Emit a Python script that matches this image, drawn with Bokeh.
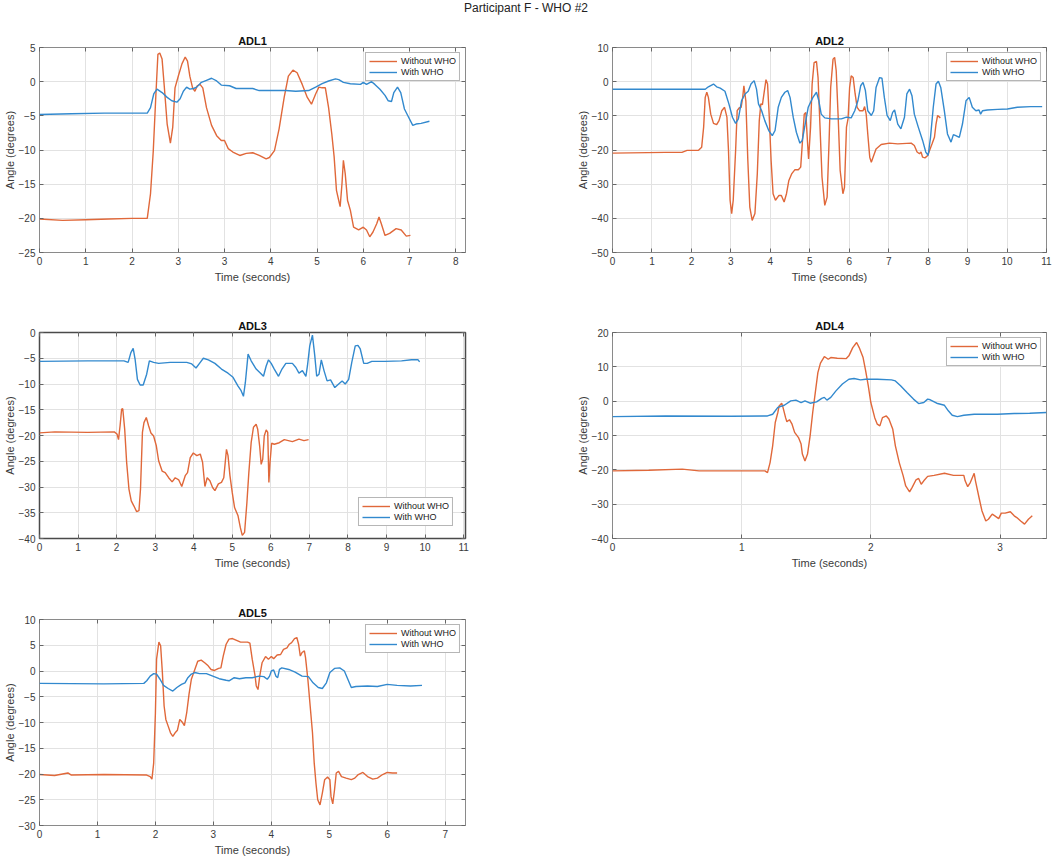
from bokeh.plotting import figure
from bokeh.models import Range1d, FixedTicker, Div, LinearAxis
from bokeh.layouts import column, row
from bokeh.embed import file_html
from bokeh.resources import INLINE

FONT = "Liberation Sans"
ORANGE = "#E0683A"
BLUE = "#3289CE"
SUPTITLE = "Participant F - WHO #2"
SERIES = ["Without WHO", "With WHO"]
XLABEL = "Time (seconds)"
YLABEL = "Angle (degrees)"

# ---------------- ADL1 (x axis positions are tick indices; labels as printed) ----------------
ADL1_XTICK_LABELS = ["0", "1", "2", "3", "3", "4", "5", "6", "7", "8"]
ADL1_YTICKS = [-25, -20, -15, -10, -5, 0, 5]
adl1_wo_x = [0, 0.5, 1.0, 1.5, 2.0, 2.33, 2.40, 2.46, 2.51, 2.56, 2.60, 2.65, 2.70, 2.76, 2.83, 2.88, 2.93, 3.00, 3.08, 3.15,
             3.20, 3.25, 3.31, 3.36, 3.41, 3.47, 3.53, 3.61, 3.72, 3.83, 3.93, 4.00, 4.08, 4.18, 4.33, 4.47, 4.61, 4.75, 4.90, 4.97,
             5.08, 5.18, 5.29, 5.38, 5.48, 5.57, 5.68, 5.79, 5.88, 5.97, 6.04, 6.11, 6.18, 6.25, 6.32, 6.37, 6.42, 6.47, 6.50, 6.54,
             6.57, 6.61, 6.66, 6.72, 6.79, 6.90, 7.00, 7.07, 7.14, 7.21, 7.29, 7.34, 7.39, 7.47, 7.57, 7.71, 7.82, 7.93, 8.02]
adl1_wo_y = [-20.1, -20.3, -20.2, -20.1, -20.0, -20.0, -16.4, -10.1, -2.8, 4.0, 4.2, 3.3, -0.9, -6.2, -9.0, -6.7, -0.9, 0.8, 2.6, 3.6,
             3.0, 0.8, -0.9, -1.4, -0.6, -0.4, -0.9, -3.8, -6.4, -7.9, -8.6, -8.6, -9.8, -10.3, -10.8, -10.5, -10.4, -10.8, -11.3, -11.1,
             -10.1, -6.9, -2.3, 0.8, 1.7, 1.3, -0.4, -2.3, -3.3, -1.8, -0.8, -0.9, -0.9, -3.8, -7.7, -11.0, -15.9, -17.4, -18.3, -14.9,
             -11.5, -13.5, -17.4, -18.8, -21.3, -21.7, -21.3, -21.7, -22.7, -22.0, -20.8, -19.8, -20.8, -22.5, -22.2, -21.5, -21.7, -22.6, -22.5]
adl1_w_x = [0, 0.69, 1.40, 2.33, 2.40, 2.47, 2.54, 2.65, 2.76, 2.86, 2.97, 3.04, 3.11, 3.18, 3.25, 3.33, 3.40, 3.50, 3.61, 3.72,
            3.83, 3.93, 4.11, 4.25, 4.47, 4.61, 4.75, 4.97, 5.32, 5.54, 5.82, 5.97, 6.11, 6.25, 6.40, 6.47, 6.57, 6.72, 6.94, 7.00,
            7.07, 7.18, 7.25, 7.36, 7.47, 7.54, 7.61, 7.66, 7.74, 7.81, 7.89, 7.98, 8.07, 8.14, 8.25, 8.43]
adl1_w_y = [-4.8, -4.7, -4.6, -4.6, -3.8, -1.8, -1.1, -1.6, -2.3, -2.8, -3.0, -2.5, -1.4, -0.8, -1.1, -1.0, -0.8, -0.1, 0.2, 0.5,
            0.1, -0.5, -0.6, -1.0, -1.0, -1.0, -1.3, -1.3, -1.3, -1.4, -1.3, -0.8, -0.3, 0.1, 0.4, 0.3, -0.1, -0.3, -0.4, -0.1,
            -0.4, 0.0, -0.4, -1.1, -2.0, -2.8, -2.9, -1.6, -0.8, -1.6, -4.0, -5.2, -6.4, -6.2, -6.1, -5.8]

# ---------------- ADL2 ----------------
ADL2_YTICKS = [-50, -40, -30, -20, -10, 0, 10]
adl2_wo_x = [0, 1.34, 1.76, 1.89, 2.18, 2.26, 2.31, 2.35, 2.39, 2.43, 2.49, 2.56, 2.64, 2.70, 2.77, 2.84, 2.90, 2.94, 2.98, 3.02,
             3.06, 3.12, 3.16, 3.21, 3.26, 3.30, 3.33, 3.38, 3.43, 3.48, 3.54, 3.61, 3.67, 3.72, 3.76, 3.80, 3.85, 3.89, 3.93, 3.97,
             4.02, 4.07, 4.13, 4.22, 4.28, 4.35, 4.41, 4.47, 4.54, 4.62, 4.71, 4.77, 4.81, 4.86, 4.90, 4.94, 4.97, 5.02, 5.06, 5.11,
             5.17, 5.21, 5.26, 5.31, 5.38, 5.44, 5.49, 5.53, 5.59, 5.63, 5.67, 5.72, 5.77, 5.84, 5.88, 5.93, 5.97, 6.01, 6.05, 6.10,
             6.15, 6.20, 6.26, 6.35, 6.39, 6.43, 6.47, 6.52, 6.56, 6.62, 6.68, 6.81, 7.02, 7.23, 7.57, 7.65, 7.72, 7.78, 7.82, 7.86,
             7.92, 7.99, 8.05, 8.10, 8.16, 8.20, 8.24, 8.31]
adl2_wo_y = [-20.9, -20.7, -20.7, -20.1, -20.1, -19.2, -13.3, -4.6, -3.1, -4.6, -9.5, -12.2, -12.6, -11.4, -8.5, -7.5, -10.4, -20.2, -34.7, -38.6,
             -34.7, -20.2, -8.5, -7.7, -7.5, -4.6, -1.2, -5.6, -23.1, -36.7, -40.6, -38.6, -27.0, -11.4, -6.5, -6.7, -2.6, 0.6, -0.7, -9.5,
             -23.1, -32.8, -34.7, -33.3, -33.3, -35.2, -32.8, -28.9, -27.0, -25.8, -25.8, -25.0, -18.2, -9.5, -9.0, -17.2, -22.6, -13.3, -0.7, 5.6,
             5.9, 1.2, -13.3, -27.9, -36.2, -33.8, -17.2, -1.7, 6.6, 7.1, 3.2, -10.4, -26.0, -32.8, -30.9, -13.3, -10.9, -1.7, 1.7, 1.2,
             -3.6, -7.5, -8.5, -8.5, -7.3, -9.5, -15.3, -22.1, -23.6, -21.6, -19.7, -18.4, -18.0, -18.2, -18.0, -18.7, -20.6, -21.1, -20.6, -22.1,
             -22.3, -21.6, -19.7, -18.2, -16.3, -12.4, -9.9, -10.6]
adl2_w_x = [0, 1.5, 2.35, 2.43, 2.56, 2.64, 2.73, 2.85, 2.95, 3.04, 3.12, 3.19, 3.27, 3.36, 3.44, 3.51, 3.59, 3.65, 3.70, 3.78,
            3.86, 3.96, 4.05, 4.12, 4.20, 4.28, 4.37, 4.44, 4.50, 4.58, 4.66, 4.75, 4.81, 4.87, 4.96, 5.08, 5.17, 5.23, 5.29, 5.38,
            5.55, 5.80, 5.93, 6.05, 6.14, 6.22, 6.29, 6.35, 6.41, 6.47, 6.56, 6.62, 6.68, 6.77, 6.83, 6.89, 6.96, 7.04, 7.10, 7.15,
            7.23, 7.31, 7.40, 7.46, 7.53, 7.59, 7.65, 7.75, 7.86, 7.94, 8.00, 8.06, 8.13, 8.20, 8.26, 8.32, 8.41, 8.49, 8.58, 8.64,
            8.70, 8.79, 8.87, 8.96, 9.04, 9.12, 9.21, 9.29, 9.33, 9.38, 9.50, 9.76, 10.01, 10.26, 10.60, 10.89]
adl2_w_y = [-2.2, -2.2, -2.2, -1.5, -0.7, -1.5, -1.9, -2.8, -6.5, -10.4, -12.2, -10.9, -5.6, -3.6, -2.8, -0.7, 0.3, -2.2, -6.5, -8.5,
            -11.4, -14.3, -15.8, -14.3, -7.5, -4.6, -3.1, -2.6, -4.6, -10.4, -14.8, -18.0, -17.2, -13.3, -7.5, -4.6, -3.1, -5.6, -9.5, -10.6,
            -10.9, -10.9, -10.4, -10.6, -8.5, -5.6, -1.2, -0.2, -2.6, -8.5, -9.9, -8.5, -1.7, 1.2, 1.0, -4.6, -9.9, -11.4, -9.0, -8.3,
            -12.4, -13.8, -10.4, -3.6, -2.2, -4.1, -9.5, -13.3, -17.2, -20.6, -21.6, -16.3, -7.5, -0.7, 0.1, -1.7, -8.5, -15.3, -17.7, -15.5,
            -15.8, -16.3, -12.4, -5.6, -4.6, -7.5, -8.5, -8.3, -9.5, -8.5, -8.3, -8.1, -8.0, -7.5, -7.3, -7.3]

# ---------------- ADL3 ----------------
ADL3_YTICKS = [-40, -35, -30, -25, -20, -15, -10, -5, 0]
adl3_wo_x = [0, 0.4, 1.25, 1.94, 2.01, 2.05, 2.09, 2.13, 2.16, 2.21, 2.26, 2.32, 2.38, 2.45, 2.52, 2.58, 2.62, 2.67, 2.71, 2.77,
             2.83, 2.89, 2.96, 3.03, 3.09, 3.18, 3.26, 3.35, 3.44, 3.52, 3.61, 3.69, 3.78, 3.84, 3.91, 3.99, 4.08, 4.17, 4.23, 4.29,
             4.35, 4.42, 4.49, 4.55, 4.64, 4.72, 4.78, 4.85, 4.89, 4.94, 5.00, 5.06, 5.15, 5.21, 5.26, 5.32, 5.38, 5.43, 5.49, 5.55,
             5.62, 5.66, 5.71, 5.75, 5.79, 5.83, 5.88, 5.92, 5.95, 5.98, 6.02, 6.09, 6.22, 6.35, 6.56, 6.73, 6.86, 6.98]
adl3_wo_y = [-19.5, -19.3, -19.4, -19.3, -19.7, -20.8, -18.1, -14.9, -14.8, -18.8, -25.2, -30.4, -32.7, -33.7, -34.8, -34.6, -30.4, -19.4, -17.5, -16.5,
             -18.1, -19.5, -20.1, -22.0, -24.9, -26.9, -27.2, -28.2, -29.0, -28.2, -28.6, -29.9, -27.8, -27.2, -24.3, -23.4, -23.9, -23.6, -25.2, -29.9,
             -28.2, -28.8, -30.1, -30.7, -29.4, -29.1, -28.2, -22.7, -23.9, -27.8, -31.1, -34.0, -35.6, -37.9, -39.4, -38.8, -33.0, -27.2, -21.4, -18.4,
             -17.8, -18.8, -22.0, -25.6, -24.6, -20.1, -18.9, -19.4, -29.1, -25.2, -21.5, -21.7, -21.4, -20.8, -21.2, -20.7, -21.0, -20.8]
adl3_w_x = [0, 1.25, 2.19, 2.30, 2.37, 2.43, 2.48, 2.54, 2.61, 2.69, 2.78, 2.85, 2.96, 3.09, 3.39, 3.82, 3.95, 4.06, 4.17, 4.25,
            4.38, 4.55, 4.72, 4.89, 5.02, 5.15, 5.23, 5.29, 5.34, 5.41, 5.49, 5.62, 5.72, 5.81, 5.88, 5.94, 6.01, 6.09, 6.20, 6.29,
            6.39, 6.56, 6.65, 6.73, 6.82, 6.91, 6.95, 7.01, 7.08, 7.14, 7.19, 7.25, 7.31, 7.38, 7.46, 7.55, 7.66, 7.76, 7.85, 7.93,
            8.02, 8.10, 8.19, 8.26, 8.32, 8.41, 8.50, 8.62, 8.96, 9.39, 9.65, 9.82, 9.86]
adl3_w_y = [-5.6, -5.5, -5.5, -5.8, -3.9, -3.1, -5.2, -9.1, -10.2, -10.2, -8.1, -5.5, -5.8, -6.0, -5.8, -5.8, -6.1, -6.9, -5.8, -5.0,
            -5.3, -6.0, -7.1, -7.9, -8.7, -10.4, -11.3, -12.4, -9.7, -4.2, -5.5, -7.1, -7.8, -8.5, -6.5, -5.3, -6.0, -7.1, -8.5, -7.1,
            -6.0, -6.0, -6.8, -7.9, -7.4, -8.5, -6.5, -2.6, -0.5, -4.5, -8.5, -8.1, -5.3, -7.4, -9.4, -9.2, -10.7, -10.0, -9.4, -10.0,
            -9.1, -5.8, -2.6, -2.5, -3.2, -6.0, -6.0, -5.6, -5.6, -5.5, -5.3, -5.3, -5.7]

# ---------------- ADL4 ----------------
ADL4_YTICKS = [-40, -30, -20, -10, 0, 10, 20]
adl4_wo_x = [0, 0.28, 0.54, 0.67, 0.92, 1.18, 1.20, 1.22, 1.24, 1.26, 1.28, 1.29, 1.31, 1.32, 1.34, 1.35, 1.37, 1.39, 1.41, 1.44,
             1.46, 1.47, 1.49, 1.51, 1.53, 1.55, 1.57, 1.59, 1.61, 1.64, 1.67, 1.69, 1.74, 1.81, 1.83, 1.86, 1.89, 1.91, 1.94, 1.96,
             1.98, 2.00, 2.03, 2.05, 2.07, 2.09, 2.12, 2.14, 2.17, 2.19, 2.22, 2.25, 2.27, 2.30, 2.32, 2.35, 2.37, 2.39, 2.41, 2.44,
             2.49, 2.57, 2.64, 2.72, 2.73, 2.75, 2.77, 2.80, 2.81, 2.84, 2.86, 2.89, 2.91, 2.94, 2.96, 2.99, 3.01, 3.04, 3.08, 3.11,
             3.13, 3.16, 3.19, 3.22, 3.25]
adl4_wo_y = [-20.3, -20.1, -19.8, -20.3, -20.3, -20.3, -20.8, -17.9, -13.0, -6.2, -3.3, -1.4, -0.6, -1.8, -4.8, -6.0, -5.4, -6.7, -9.1, -10.6,
             -12.5, -15.4, -17.4, -15.4, -10.1, -3.3, 2.5, 8.3, 11.1, 13.0, 12.2, 12.7, 12.5, 12.4, 13.2, 15.6, 17.1, 15.6, 12.7, 8.8,
             4.5, -0.4, -4.8, -6.7, -7.2, -4.8, -4.3, -5.2, -8.2, -13.0, -17.9, -21.7, -24.7, -26.4, -25.1, -22.9, -22.5, -24.2, -23.2, -21.9,
             -21.6, -21.0, -21.6, -21.6, -23.2, -24.9, -23.7, -21.0, -23.2, -28.5, -31.9, -34.9, -34.4, -32.9, -33.4, -34.2, -32.6, -32.6, -32.2, -33.4,
             -33.9, -34.9, -35.8, -34.4, -33.4]
adl4_w_x = [0, 0.41, 0.92, 1.20, 1.24, 1.28, 1.33, 1.38, 1.42, 1.46, 1.49, 1.53, 1.58, 1.62, 1.64, 1.66, 1.69, 1.73, 1.78, 1.83,
            1.87, 1.92, 1.96, 2.05, 2.16, 2.19, 2.23, 2.28, 2.33, 2.37, 2.41, 2.44, 2.46, 2.51, 2.57, 2.60, 2.63, 2.67, 2.72, 2.80,
            2.98, 3.11, 3.23, 3.36]
adl4_w_y = [-4.5, -4.3, -4.4, -4.3, -3.8, -1.8, -1.2, 0.1, 0.3, -0.4, 0.1, -0.6, -0.2, 0.8, 1.1, 0.3, 1.1, 3.0, 5.0, 6.4,
            6.6, 6.2, 6.4, 6.4, 6.2, 5.9, 4.5, 2.5, 0.6, -0.7, -0.4, 0.6, 0.4, -0.6, -1.2, -2.8, -4.1, -4.5, -4.1, -3.8,
            -3.8, -3.6, -3.5, -3.3]

# ---------------- ADL5 ----------------
ADL5_YTICKS = [-30, -25, -20, -15, -10, -5, 0, 5, 10]
adl5_wo_x = [0, 0.26, 0.49, 0.55, 1.11, 1.85, 1.91, 1.94, 1.97, 2.00, 2.02, 2.06, 2.09, 2.12, 2.15, 2.18, 2.22, 2.26, 2.30, 2.34,
             2.38, 2.42, 2.46, 2.50, 2.54, 2.58, 2.62, 2.68, 2.73, 2.79, 2.85, 2.91, 2.96, 3.02, 3.09, 3.13, 3.17, 3.22, 3.27, 3.33,
             3.39, 3.47, 3.59, 3.63, 3.67, 3.72, 3.74, 3.77, 3.80, 3.84, 3.90, 3.95, 4.00, 4.04, 4.10, 4.16, 4.21, 4.27, 4.31, 4.35,
             4.40, 4.44, 4.47, 4.50, 4.53, 4.57, 4.59, 4.63, 4.67, 4.71, 4.74, 4.77, 4.80, 4.84, 4.88, 4.92, 4.97, 5.01, 5.03, 5.06,
             5.09, 5.12, 5.16, 5.21, 5.29, 5.38, 5.44, 5.50, 5.58, 5.66, 5.75, 5.83, 5.92, 6.00, 6.09, 6.17]
adl5_wo_y = [-20.1, -20.3, -19.8, -20.2, -20.1, -20.2, -20.5, -21.0, -17.9, -8.1, 2.3, 5.6, 4.9, -0.3, -6.8, -9.4, -10.7, -12.0, -12.7, -12.0,
             -11.5, -9.4, -9.9, -10.6, -8.1, -4.5, -1.6, 0.3, 1.9, 2.1, 1.6, 1.0, 0.3, 0.1, 0.5, 0.6, 2.9, 5.2, 6.2, 6.3,
             6.0, 5.6, 5.6, 5.4, 2.3, -1.0, -2.9, -3.6, -1.0, 1.6, 2.8, 2.3, 2.8, 2.4, 3.1, 3.2, 4.2, 4.5, 5.2, 5.5,
             6.3, 6.5, 5.2, 2.9, 3.6, 3.9, 2.6, -1.6, -6.8, -12.0, -17.9, -21.8, -25.0, -26.0, -23.7, -21.1, -20.6, -21.1, -24.4, -25.8,
             -23.1, -19.8, -19.5, -20.5, -20.8, -21.1, -20.8, -20.1, -19.7, -20.5, -21.0, -20.8, -20.1, -19.7, -19.8, -19.8]
adl5_w_x = [0, 1.11, 1.80, 1.85, 1.91, 1.97, 2.02, 2.08, 2.14, 2.22, 2.30, 2.37, 2.45, 2.51, 2.56, 2.62, 2.68, 2.76, 2.88, 2.99,
            3.10, 3.22, 3.27, 3.36, 3.45, 3.56, 3.67, 3.79, 3.87, 3.93, 3.97, 4.00, 4.04, 4.08, 4.11, 4.14, 4.18, 4.30, 4.41, 4.53,
            4.64, 4.72, 4.81, 4.88, 4.95, 5.01, 5.09, 5.18, 5.26, 5.32, 5.38, 5.46, 5.66, 5.83, 6.00, 6.17, 6.40, 6.60]
adl5_w_y = [-2.4, -2.5, -2.4, -1.9, -1.0, -0.5, -0.6, -1.6, -2.8, -3.4, -3.9, -3.2, -2.6, -2.3, -1.3, -0.6, -0.3, -0.5, -0.5, -1.0,
            -1.5, -1.8, -1.9, -1.3, -1.5, -1.3, -1.3, -1.0, -1.1, -1.6, -1.0, 0.0, 0.2, -1.0, -1.3, 0.3, 0.6, 0.3, -0.2, -1.0,
            -1.1, -2.3, -3.2, -3.4, -2.3, -0.3, 0.5, 0.6, 0.0, -1.6, -3.2, -3.0, -2.9, -3.0, -2.6, -2.8, -2.9, -2.8]


def style_axis(ax, label_standoff, title_standoff):
    ax.major_tick_in = 4
    ax.major_tick_out = 0
    ax.minor_tick_line_color = None
    ax.major_tick_line_color = "#666666"
    ax.axis_line_color = None
    ax.major_label_text_font = FONT
    ax.major_label_text_font_size = "10px"
    ax.major_label_text_color = "#3A3A3A"
    ax.major_label_standoff = label_standoff
    ax.axis_label_text_font = FONT
    ax.axis_label_text_font_size = "11px"
    ax.axis_label_text_font_style = "normal"
    ax.axis_label_text_color = "#3A3A3A"
    ax.axis_label_standoff = title_standoff


def make_fig(title, wo, w, x_end, y_rng, x_ticks, y_ticks, width, height, borders, legend_loc,
             legend_margin, outline_color="#8A8A8A", outline_width=1, x_labels=None):
    left, right, top, bottom = borders
    p = figure(width=width, height=height, output_backend="svg", toolbar_location=None,
               x_range=Range1d(0, x_end), y_range=Range1d(*y_rng), title=title,
               min_border_left=left, min_border_right=right, min_border_top=top, min_border_bottom=bottom)
    p.title.text_font = FONT
    p.title.text_font_size = "11px"
    p.title.text_font_style = "bold"
    p.title.text_color = "#111111"
    p.title.align = "center"
    p.title.standoff = 2
    p.outline_line_color = outline_color
    p.outline_line_width = outline_width
    style_axis(p.xaxis[0], 4, 3)
    style_axis(p.yaxis[0], 4, 0)
    p.xaxis.ticker = FixedTicker(ticks=x_ticks)
    p.yaxis.ticker = FixedTicker(ticks=y_ticks)
    if x_labels is not None:
        p.xaxis.major_label_overrides = {t: lab for t, lab in zip(x_ticks, x_labels)}
    p.xaxis.axis_label = XLABEL
    p.yaxis.axis_label = YLABEL
    # box ticks on the top and right edges (no labels)
    for side, ticks in (("above", x_ticks), ("right", y_ticks)):
        bx = LinearAxis(ticker=FixedTicker(ticks=ticks))
        style_axis(bx, 0, 0)
        bx.major_label_text_font_size = "0px"
        bx.major_label_text_alpha = 0
        p.add_layout(bx, side)
    p.grid.grid_line_color = "#E2E2E2"
    p.grid.grid_line_width = 1
    assert len(wo[0]) == len(wo[1]) and len(w[0]) == len(w[1])
    p.line(wo[0], wo[1], color=ORANGE, line_width=1.4, legend_label=SERIES[0])
    p.line(w[0], w[1], color=BLUE, line_width=1.4, legend_label=SERIES[1])
    lg = p.legend[0]
    lg.location = legend_loc
    lg.margin = legend_margin
    lg.padding = 3
    lg.spacing = 1
    lg.glyph_width = 28
    lg.glyph_height = 10
    lg.label_height = 10
    lg.label_standoff = 4
    lg.label_text_font = FONT
    lg.label_text_font_size = "9px"
    lg.label_text_color = "#222222"
    lg.border_line_color = "#6E6E6E"
    lg.border_line_width = 1
    lg.background_fill_alpha = 1
    return p


# column 1: frame x 37..465 ; column 2: frame x 610..1046
f1 = make_fig("ADL1", (adl1_wo_x, adl1_wo_y), (adl1_w_x, adl1_w_y), 9.21, (-25, 5),
              list(range(10)), ADL1_YTICKS, 573, 282, (37, 108, 33, 44), "top_right", 5,
              x_labels=ADL1_XTICK_LABELS)
f2 = make_fig("ADL2", (adl2_wo_x, adl2_wo_y), (adl2_w_x, adl2_w_y), 11, (-50, 10),
              list(range(12)), ADL2_YTICKS, 479, 282, (37, 6, 33, 44), "top_right", 5)
f3 = make_fig("ADL3", (adl3_wo_x, adl3_wo_y), (adl3_w_x, adl3_w_y), 11.05, (-40, 0),
              list(range(12)), ADL3_YTICKS, 573, 287, (37, 108, 36, 45), "bottom_right", 12,
              outline_color="#4A4A4A", outline_width=1.5)
f4 = make_fig("ADL4", (adl4_wo_x, adl4_wo_y), (adl4_w_x, adl4_w_y), 3.36, (-40, 20),
              [0, 1, 2, 3], ADL4_YTICKS, 479, 287, (37, 6, 36, 45), "top_right", 5)
f5 = make_fig("ADL5", (adl5_wo_x, adl5_wo_y), (adl5_w_x, adl5_w_y), 7.35, (-30, 10),
              list(range(8)), ADL5_YTICKS, 573, 275, (37, 108, 36, 33), "top_right", 5)

title = Div(text=(f'<div style="width:1052px;text-align:center;font-family:\'{FONT}\';'
                  f'font-size:12px;line-height:14px;color:#222">{SUPTITLE}</div>'),
            width=1052, height=14, margin=0)

layout = column(title, row(f1, f2, spacing=0), row(f3, f4, spacing=0), row(f5, spacing=0), spacing=0)

open("out.html", "w").write(file_html(layout, INLINE))
